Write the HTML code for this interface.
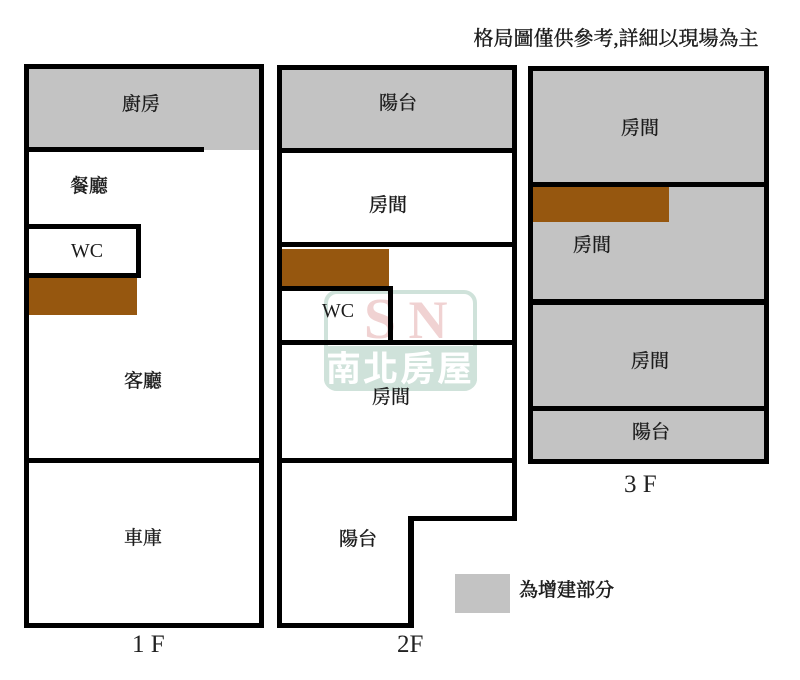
<!DOCTYPE html>
<html><head><meta charset="utf-8">
<style>
html,body{margin:0;padding:0;background:#fff;width:800px;height:680px;overflow:hidden}
svg{display:block}
text{font-family:"Liberation Serif","Noto Serif CJK TC","Noto Serif CJK SC",serif;fill:#1c1c1c}
.c{font-size:19px;text-anchor:middle;stroke:#1c1c1c;stroke-width:.35}
.b{font-size:19px;text-anchor:middle;stroke:#1c1c1c;stroke-width:.45}
.w{font-size:20px;text-anchor:middle}
.f{font-size:25px;fill:#222}
</style></head>
<body>
<svg width="800" height="680" viewBox="0 0 800 680" xmlns="http://www.w3.org/2000/svg">
<rect width="800" height="680" fill="#fff"/>

<!-- Fills -->
<rect x="29" y="69" width="231" height="81" fill="#c3c3c3"/>
<rect x="282" y="70" width="231" height="80" fill="#c3c3c3"/>
<rect x="533" y="70" width="232" height="390" fill="#c3c3c3"/>
<rect x="29" y="278" width="108" height="37" fill="#96570f"/>
<rect x="282" y="249" width="107" height="37" fill="#96570f"/>
<rect x="533" y="187" width="136" height="35" fill="#96570f"/>
<rect x="455" y="574" width="55" height="39" fill="#c3c3c3"/>

<!-- Watermark (beneath the walls) -->
<rect x="326" y="292" width="149" height="97" rx="11" fill="none" stroke="#cfe2da" stroke-width="4"/>
<path d="M324 346H477V379a11 11 0 0 1-11 11H335a11 11 0 0 1-11-11Z" fill="#cfe2da"/>
<text x="380" y="338" font-size="58" font-weight="700" text-anchor="middle" style="fill:#f0d2d2">S</text>
<text x="428" y="338" font-size="54" font-weight="700" text-anchor="middle" style="fill:#f0d2d2">N</text>
<text x="400" y="381" font-size="35" font-weight="700" text-anchor="middle" letter-spacing="2" style="fill:#fff;font-family:'Liberation Sans','Noto Sans CJK TC',sans-serif">南北房屋</text>

<!-- 1F walls -->
<g fill="#000">
<rect x="24" y="64" width="240" height="5"/>
<rect x="24" y="64" width="5" height="564"/>
<rect x="259" y="64" width="5" height="564"/>
<rect x="24" y="623" width="240" height="5"/>
<rect x="24" y="147" width="180" height="5"/>
<rect x="24" y="224" width="117" height="5"/>
<rect x="136" y="224" width="5" height="54"/>
<rect x="24" y="273" width="117" height="5"/>
<rect x="24" y="458" width="240" height="5"/>

<!-- 2F walls -->
<rect x="277" y="65" width="240" height="5"/>
<rect x="277" y="65" width="5" height="563"/>
<rect x="512" y="65" width="5" height="455"/>
<rect x="277" y="148" width="240" height="5"/>
<rect x="277" y="242" width="240" height="5"/>
<rect x="277" y="286" width="116" height="5"/>
<rect x="388" y="286" width="5" height="58"/>
<rect x="277" y="340" width="240" height="5"/>
<rect x="277" y="458" width="240" height="5"/>
<rect x="408" y="516" width="109" height="5"/>
<rect x="408" y="516" width="6" height="112"/>
<rect x="277" y="623" width="137" height="5"/>

<!-- 3F walls -->
<rect x="528" y="66" width="241" height="5"/>
<rect x="528" y="66" width="5" height="398"/>
<rect x="764" y="66" width="5" height="398"/>
<rect x="528" y="459" width="241" height="5"/>
<rect x="528" y="182" width="241" height="5"/>
<rect x="528" y="299" width="241" height="6"/>
<rect x="528" y="406" width="241" height="5"/>
</g>

<!-- Labels -->
<text x="616" y="45" font-size="20" text-anchor="middle" style="stroke:#1c1c1c;stroke-width:.4">格局圖僅供參考,詳細以現場為主</text>

<text class="c" x="141" y="110">廚房</text>
<text class="b" x="89" y="192">餐廳</text>
<text class="w" x="87" y="257">WC</text>
<text class="b" x="143" y="387">客廳</text>
<text class="c" x="143" y="544">車庫</text>
<text class="f" x="132" y="652">1 F</text>

<text class="c" x="398" y="109">陽台</text>
<text class="b" x="388" y="211">房間</text>
<text class="w" x="338" y="317">WC</text>
<text class="c" x="391" y="403">房間</text>
<text class="b" x="358" y="545">陽台</text>
<text class="f" x="397" y="652">2F</text>

<text class="c" x="640" y="134">房間</text>
<text class="c" x="592" y="251">房間</text>
<text class="c" x="650" y="367">房間</text>
<text class="c" x="651" y="438">陽台</text>
<text class="f" x="624" y="492">3 F</text>

<text x="519" y="596" font-size="19" style="stroke:#1c1c1c;stroke-width:.6">為增建部分</text>
</svg>
</body></html>
